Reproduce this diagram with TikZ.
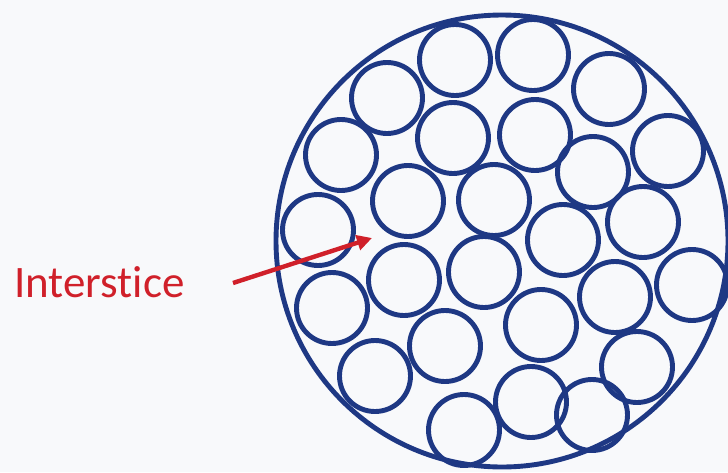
\documentclass[tikz,border=0pt]{standalone}
\usepackage{fontspec}
\setmainfont{Carlito}[Ligatures=NoCommon]
\usetikzlibrary{arrows.meta}
\definecolor{wireblue}{RGB}{30,56,132}
\definecolor{labelred}{RGB}{208,32,42}
\definecolor{paper}{RGB}{248,249,251}
\begin{document}
\begin{tikzpicture}[x=1pt,y=-1pt,
  wire/.style={circle,draw=wireblue,line width=4.9pt,minimum size=71pt,inner sep=0pt},
  sheath/.style={circle,draw=wireblue,line width=4.9pt,minimum size=452pt,inner sep=0pt},
  pointer/.style={draw=labelred,line width=4.4pt,-{Triangle[length=15pt,width=15pt]}}]
\fill[paper] (0,0) rectangle (728,472);
\useasboundingbox (0,0) rectangle (728,472);
\node[sheath] (outer) at (502,241) {};
\foreach \n/\x/\y in {1/455/60,2/533/55,3/609/89,4/387/98,5/453/138,6/535/135,7/668/151,8/593/172,9/341/155,10/408/201,11/494/200,12/318/230,13/643/222,14/563/240,15/404/280,16/484/272,17/692/285,18/332/308,19/615/297,20/541/325,21/445/346,22/375/376,23/637/367,24/531/402,25/592/415,26/464/430}
  \node[wire] (w\n) at (\x,\y) {};
\node[anchor=base west,text=labelred,font=\fontsize{45}{47}\selectfont,inner sep=0pt] (label) at (14,297) {Interstice};
\coordinate (tail) at (233,283);
\coordinate (tip) at (372,238);
\draw[pointer] (tail) -- (tip);
\end{tikzpicture}
\end{document}
